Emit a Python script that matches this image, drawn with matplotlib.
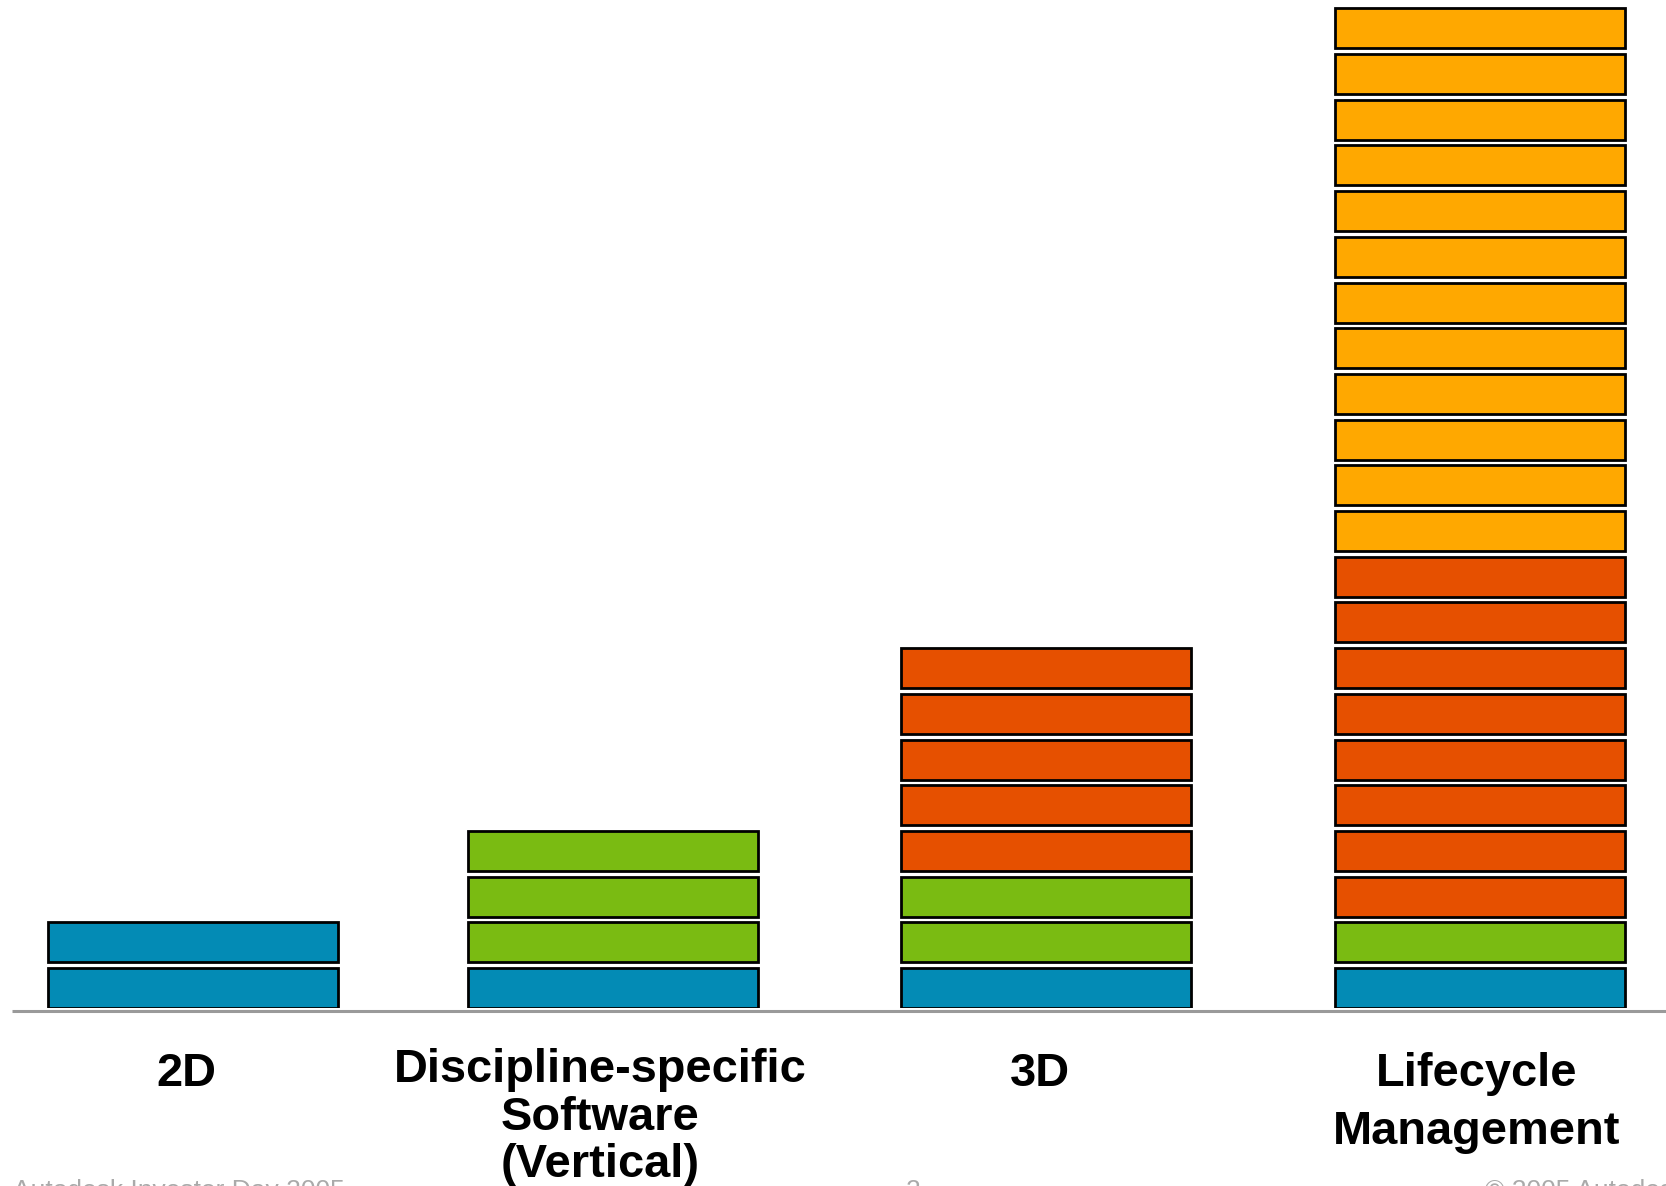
"""Stacked block chart: 2D -> Vertical -> 3D -> Lifecycle Management."""

import numpy as np
import matplotlib

matplotlib.use("Agg")
import matplotlib.pyplot as plt

plt.rcParams["font.family"] = ["Liberation Sans", "DejaVu Sans"]

# ------------------------------------------------- data
categories = ["2D", "Discipline-specific\nSoftware\n(Vertical)", "3D",
              "Lifecycle\nManagement"]
blue_blocks = [2, 1, 1, 1]
green_blocks = [0, 3, 2, 1]
red_blocks = [0, 0, 5, 8]
orange_blocks = [0, 0, 0, 12]

layer_counts = [blue_blocks, green_blocks, red_blocks, orange_blocks]
layer_colors = ["#038BB5", "#7ABB12", "#E65000", "#FFA800"]

# ------------------------------------------------- layout (pixel units)
W, H = 1666, 1186
DPI = 100
base_px = 1008          # baseline row
pitch_px = 45.7         # one block + gap
block_px = 40.0
x_centers = [193, 613, 1046, 1480]
bar_w = 290

fig = plt.figure(figsize=(W / DPI, H / DPI), dpi=DPI)
ax = fig.add_axes([0, (H - base_px) / H, 1, base_px / H])
ax.set_xlim(0, W)
ax.set_ylim(0, base_px / pitch_px)
ax.axis("off")

# stack the blocks one level at a time
for ci, xc in enumerate(x_centers):
    seq = []
    for counts, col in zip(layer_counts, layer_colors):
        seq += [col] * counts[ci]
    levels = np.arange(len(seq))
    ax.bar(np.full(len(seq), xc), block_px / pitch_px, bottom=levels,
           width=bar_w, color=seq, edgecolor="black", linewidth=2.0,
           zorder=3)

# grey baseline
ax.plot([12, W], [-2.5 / pitch_px] * 2, color="#9A9A9A", lw=2.2,
        clip_on=False, zorder=2, solid_capstyle="butt")


def fy(px):
    return (H - px) / H


# category labels: (x centre, baseline of last line, line spacing)
label_pos = [(186, 1086, 1.2), (600, 1177, 1.1), (1040, 1086, 1.2),
             (1477, 1144, 1.4)]
for text, (x, y, ls) in zip(categories, label_pos):
    fig.text(x / W, fy(y), text, ha="center", va="baseline",
             fontsize=33.8, fontweight="bold", linespacing=ls,
             multialignment="center")

# footer (mostly cut off at the bottom edge, as in the original slide)
foot = dict(fontsize=19, color="#AAAAAA", va="baseline")
fig.text(13 / W, fy(1198), "Autodesk Investor Day 2005", ha="left", **foot)
fig.text(913 / W, fy(1198), "2", ha="center", **foot)
fig.text(1485 / W, fy(1198), "© 2005 Autodesk", ha="left", **foot)

fig.savefig("out.png", dpi=DPI, facecolor="white")
